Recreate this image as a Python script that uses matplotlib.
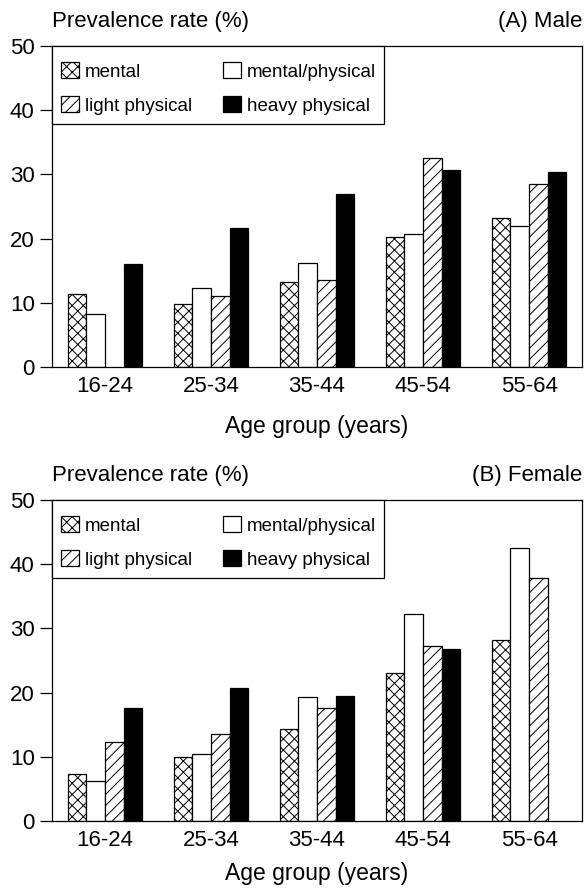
import numpy as np
import matplotlib
matplotlib.use("Agg")
import matplotlib.pyplot as plt
from matplotlib.patches import Patch, Rectangle

plt.rcParams['font.family'] = ['Liberation Sans', 'DejaVu Sans']
plt.rcParams['hatch.linewidth'] = 0.7

age_groups = ["16-24", "25-34", "35-44", "45-54", "55-64"]
series = ["mental", "mental/physical", "light physical", "heavy physical"]

male_mental = [11.4, 9.8, 13.2, 20.3, 23.2]
male_mental_physical = [8.3, 12.3, 16.2, 20.7, 22.0]
male_light_physical = [np.nan, 11.1, 13.5, 32.5, 28.5]
male_heavy_physical = [16.1, 21.6, 26.9, 30.7, 30.4]

female_mental = [7.3, 9.9, 14.4, 23.0, 28.2]
female_mental_physical = [6.3, 10.5, 19.3, 32.3, 42.6]
female_light_physical = [12.3, 13.5, 17.6, 27.2, 37.9]
female_heavy_physical = [17.6, 20.7, 19.4, 26.8, np.nan]

panel_titles = ["(A) Male", "(B) Female"]
y_label = "Prevalence rate (%)"
x_label = "Age group (years)"
y_ticks = [0, 10, 20, 30, 40, 50]

styles = [
    dict(facecolor="white", hatch="xxx"),
    dict(facecolor="white", hatch=None),
    dict(facecolor="white", hatch="///"),
    dict(facecolor="black", hatch=None),
]

W, H = 585, 889
fig = plt.figure(figsize=(W / 100, H / 100), dpi=100)
ax_top = fig.add_axes([52 / W, 1 - 367 / H, 530 / W, 321 / H])
ax_bot = fig.add_axes([52 / W, 1 - 821 / H, 530 / W, 321 / H])

panels = [
    (ax_top, [male_mental, male_mental_physical, male_light_physical, male_heavy_physical], panel_titles[0], 13),
    (ax_bot, [female_mental, female_mental_physical, female_light_physical, female_heavy_physical], panel_titles[1], 8),
]

width = 0.175
x = np.arange(len(age_groups))
for ax, data, title, lpad in panels:
    for i, (vals, st) in enumerate(zip(data, styles)):
        offs = (i - 1.5) * width
        ax.bar(x + offs, np.array(vals, dtype=float), width=width,
               facecolor=st["facecolor"], edgecolor="black",
               hatch=st["hatch"], linewidth=0.9, zorder=2)
    ax.set_xlim(-0.5, 4.5)
    ax.set_ylim(0, 50)
    ax.set_yticks(y_ticks)
    ax.set_xticks(x)
    ax.set_xticklabels(age_groups)
    ax.tick_params(axis='x', length=0, pad=6.5, labelsize=16)
    ax.tick_params(axis='y', direction='out', length=9, width=0.9, pad=3.5, labelsize=16)
    for sp in ax.spines.values():
        sp.set_linewidth(0.9)
    ax.set_xlabel(x_label, fontsize=16.5, labelpad=lpad)
    ax.annotate(y_label, xy=(0, 1), xycoords='axes fraction',
                xytext=(0, 14), textcoords='offset points',
                ha='left', va='baseline', fontsize=16)
    ax.annotate(title, xy=(1, 1), xycoords='axes fraction',
                xytext=(0, 14), textcoords='offset points',
                ha='right', va='baseline', fontsize=16)
    # legend frame box (upper-left corner of axes)
    frame = Rectangle((0, 1 - 78 / 321), 332 / 530, 78 / 321, transform=ax.transAxes,
                      facecolor="white", edgecolor="black", linewidth=0.9,
                      zorder=4, clip_on=False)
    ax.add_patch(frame)
    handles = [Patch(facecolor=st["facecolor"], edgecolor="black",
                     hatch=st["hatch"], linewidth=0.9) for st in styles]
    order = [0, 2, 1, 3]
    leg = ax.legend([handles[k] for k in order], [series[k] for k in order],
                    ncol=2, loc='upper left',
                    bbox_to_anchor=(9 / 530, 1 - 16 / 321),
                    borderaxespad=0, borderpad=0, fontsize=13.5, frameon=False,
                    handlelength=0.96, handleheight=0.96, handletextpad=0.32,
                    columnspacing=1.64, labelspacing=0.82)
    leg.set_zorder(5)

fig.savefig("out.png", dpi=100)
